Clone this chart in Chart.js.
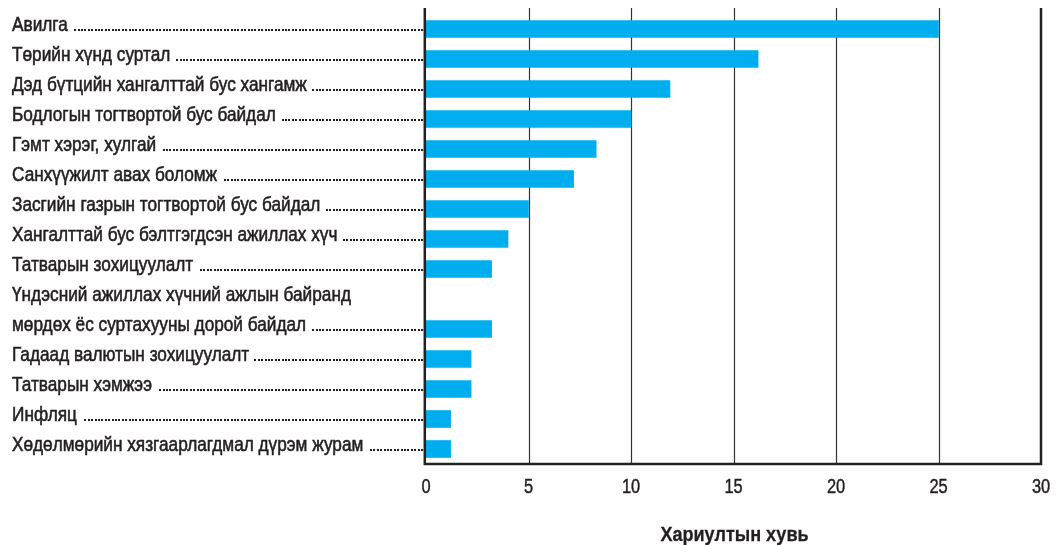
<!DOCTYPE html>
<html><head><meta charset="utf-8">
<script src="https://cdn.jsdelivr.net/npm/chart.js@4/dist/chart.umd.min.js"></script>
<style>html,body{margin:0;padding:0;background:#fff}#wrap{width:1057px;height:545px;position:relative}</style>
</head><body><div id="wrap"><canvas id="c" width="1057" height="545"></canvas></div>
<script>
// ---- data ----
const categories = [
  'Авилга',
  'Төрийн хүнд суртал',
  'Дэд бүтцийн хангалттай бус хангамж',
  'Бодлогын тогтвортой бус байдал',
  'Гэмт хэрэг, хулгай',
  'Санхүүжилт авах боломж',
  'Засгийн газрын тогтвортой бус байдал',
  'Хангалттай бус бэлтгэгдсэн ажиллах хүч',
  'Татварын зохицуулалт',
  ['Үндэсний ажиллах хүчний ажлын байранд', 'мөрдөх ёс суртахууны дорой байдал'],
  'Гадаад валютын зохицуулалт',
  'Татварын хэмжээ',
  'Инфляц',
  'Хөдөлмөрийн хязгаарлагдмал дүрэм журам'
];
const values = [25, 16.2, 11.9, 10, 8.3, 7.2, 5, 4, 3.2, 3.2, 2.2, 2.2, 1.2, 1.2];
const xTicks = [0, 5, 10, 15, 20, 25, 30];
const xTitle = 'Хариултын хувь';

// expand multi-line categories into row slots (extra lines get their own row)
const slotLabels = [];
const slotValues = [];
categories.forEach((c, i) => {
  const lines = Array.isArray(c) ? c : [c];
  lines.forEach((ln, j) => {
    const last = j === lines.length - 1;
    slotLabels.push({ text: ln, dots: last });
    slotValues.push(last ? values[i] : null);
  });
});

const FONT = '"Liberation Sans", Arial, sans-serif';
const INK = '#231f20';

function condensedText(ctx, text, x, y, align, size, sx, bold, stroke) {
  ctx.save();
  ctx.font = (bold ? 'bold ' : '') + size + 'px ' + FONT;
  const w = ctx.measureText(text).width * sx;
  let left = x;
  if (align === 'center') left = x - w / 2;
  ctx.translate(left, y);
  ctx.scale(sx, 1);
  ctx.textAlign = 'left';
  ctx.fillText(text, 0, 0);
  if (stroke) { ctx.lineWidth = stroke; ctx.strokeStyle = INK; ctx.strokeText(text, 0, 0); }
  ctx.restore();
  return w;
}

const decor = {
  id: 'decor',
  beforeDatasetsDraw(chart) {
    const { ctx, chartArea: a, scales: { x } } = chart;
    ctx.save();
    ctx.strokeStyle = '#333';
    ctx.lineWidth = 1.2;
    xTicks.forEach(v => {
      if (v === 0 || v === 30) return;
      const px = Math.round(x.getPixelForValue(v)) + 0.5;
      ctx.beginPath(); ctx.moveTo(px, a.top - 6); ctx.lineTo(px, a.bottom); ctx.stroke();
    });
    ctx.restore();
  },
  afterDatasetsDraw(chart) {
    const { ctx, chartArea: a, scales: { x } } = chart;
    ctx.save();
    ctx.strokeStyle = '#222';
    ctx.lineWidth = 2.5;
    const x0 = x.getPixelForValue(0) - 1.2;
    const x1 = x.getPixelForValue(30);
    ctx.beginPath();
    ctx.moveTo(x0, a.top - 6); ctx.lineTo(x0, a.bottom);
    ctx.lineTo(x1, a.bottom); ctx.lineTo(x1, a.top - 6);
    ctx.stroke();
    ctx.restore();
  },
  afterDraw(chart) {
    const { ctx, chartArea: a, scales: { x, y } } = chart;
    ctx.save();
    ctx.fillStyle = INK;
    ctx.textBaseline = 'alphabetic';
    const axisX = x.getPixelForValue(0) - 3;
    slotLabels.forEach((lab, i) => {
      const yc = y.getPixelForValue(i);
      const w = condensedText(ctx, lab.text, 12, yc + 2, 'left', 21, 0.82, false, 0.6);
      if (lab.dots) {
        const start = 12 + w + 5;
        for (let dx = axisX - 2; dx >= start; dx -= 3.4) {
          ctx.fillRect(Math.round(dx), Math.round(yc), 2, 2);
        }
      }
    });
    // x tick labels
    ctx.textBaseline = 'middle';
    xTicks.forEach(v => {
      condensedText(ctx, String(v), x.getPixelForValue(v), 487, 'center', 20, 0.82, false, 0.45);
    });
    // axis title
    condensedText(ctx, xTitle, (a.left + a.right) / 2 + 1, 535, 'center', 21, 0.86, true, 0.3);
    ctx.restore();
  }
};

new Chart(document.getElementById('c'), {
  type: 'bar',
  data: {
    labels: slotLabels.map(s => s.text),
    datasets: [{
      data: slotValues,
      backgroundColor: '#00aeef',
      borderWidth: 0,
      barThickness: 17
    }]
  },
  options: {
    indexAxis: 'y',
    responsive: false,
    animation: false,
    devicePixelRatio: 1,
    layout: { padding: { left: 426, right: 16, top: 14, bottom: 81 } },
    plugins: { legend: { display: false }, tooltip: { enabled: false } },
    scales: {
      y: { display: false, offset: true },
      x: { display: false, min: 0, max: 30 }
    }
  },
  plugins: [decor]
});
</script></body></html>
